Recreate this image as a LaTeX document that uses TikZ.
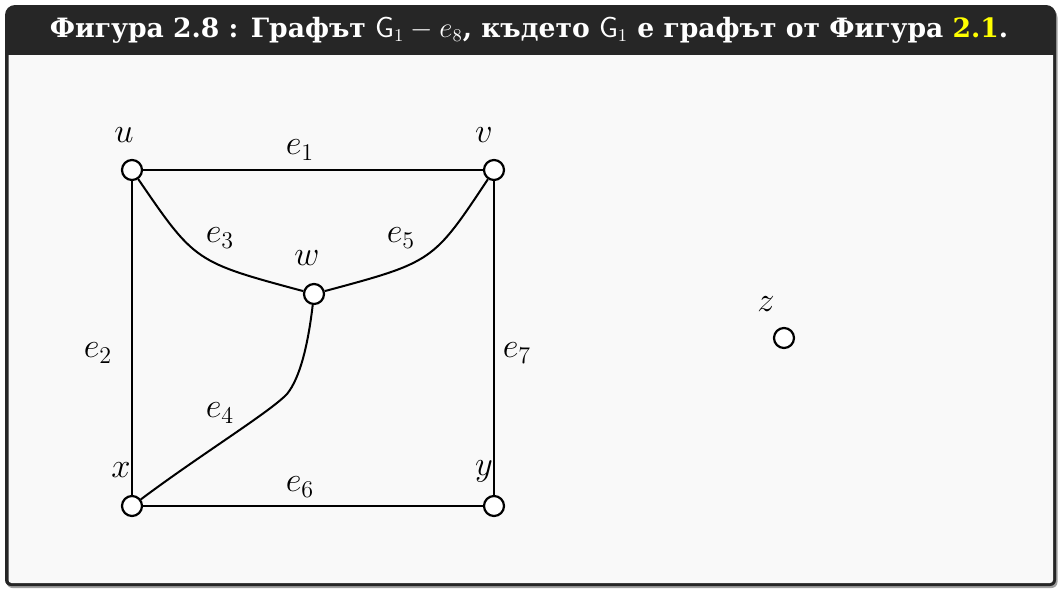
\documentclass[tikz,border=0pt]{standalone}
\usepackage[no-math]{fontspec}
\newfontfamily\titlefont{DejaVu Serif}
\definecolor{framec}{HTML}{262626}
\definecolor{backc}{HTML}{F9F9F9}
\definecolor{linkc}{HTML}{FFFF00}
\definecolor{shadowc}{HTML}{A0A0A0}
\begin{document}
\begin{tikzpicture}[x=0.5pt,y=-0.5pt,
  vertex/.style={circle,draw,fill=white,line width=1.1pt,minimum size=10pt,inner sep=0pt},
  lbl/.style={inner sep=0pt,font=\fontsize{16.5}{16}\selectfont},
  edge/.style={line width=1pt},
  titletext/.style={text=white,inner sep=0pt,anchor=base,font=\titlefont\bfseries\fontsize{13.3}{15}\selectfont}]
\useasboundingbox (0,0) rectangle (1058,589);
% shadow
\fill[shadowc] (6.5,300) [rounded corners=3pt] -- (6.5,588) -- (1057.5,588) -- (1057.5,300) [rounded corners=5pt] -- (1057.5,7.5) -- (6.5,7.5) -- cycle;
% frame
\fill[framec] (5,300) [rounded corners=3pt] -- (5,586) -- (1056,586) -- (1056,300) [rounded corners=5pt] -- (1056,5) -- (5,5) -- cycle;
% body
\fill[backc] (8.5,300) -- (8.5,55) -- (1053,55) -- (1053,300) [rounded corners=1.5pt] -- (1053,583) -- (8.5,583) -- cycle;
% title
\node[titletext] (title) at (529,37) {Фигура 2.8 : Графът $\mathsf{G}_1-e_8$, където $\mathsf{G}_1$ е графът от Фигура \textcolor{linkc}{2.1}.};
% vertices
\node[vertex] (u) at (132,170) {};
\node[vertex] (v) at (494,170) {};
\node[vertex] (w) at (314,294) {};
\node[vertex] (x) at (132,506) {};
\node[vertex] (y) at (494,506) {};
\node[vertex] (z) at (784,338) {};
\coordinate (bend) at (287,394);
% edges
\draw[edge] (u) -- (v);
\draw[edge] (u) -- (x);
\draw[edge] (x) -- (y);
\draw[edge] (v) -- (y);
\draw[edge] (u) .. controls (195,262) .. (w);
\draw[edge] (v) .. controls (433,262) .. (w);
\draw[edge] (w) .. controls (308,345) and (300,378) .. (bend) .. controls (270,412) and (200,455) .. (x);
% vertex labels
\node[lbl] (lu) at (124,135) {$u$};
\node[lbl] (lv) at (484,135) {$v$};
\node[lbl] (lw) at (307,258) {$w$};
\node[lbl] (lx) at (121,470) {$x$};
\node[lbl] (ly) at (484,471) {$y$};
\node[lbl] (lz) at (766,304) {$z$};
% edge labels
\node[lbl] (e1) at (300,150) {$e_1$};
\node[lbl] (e2) at (98,353) {$e_2$};
\node[lbl] (e3) at (220,238) {$e_3$};
\node[lbl] (e4) at (220,413) {$e_4$};
\node[lbl] (e5) at (401,238) {$e_5$};
\node[lbl] (e6) at (300,487) {$e_6$};
\node[lbl] (e7) at (517,353) {$e_7$};
\end{tikzpicture}
\end{document}
